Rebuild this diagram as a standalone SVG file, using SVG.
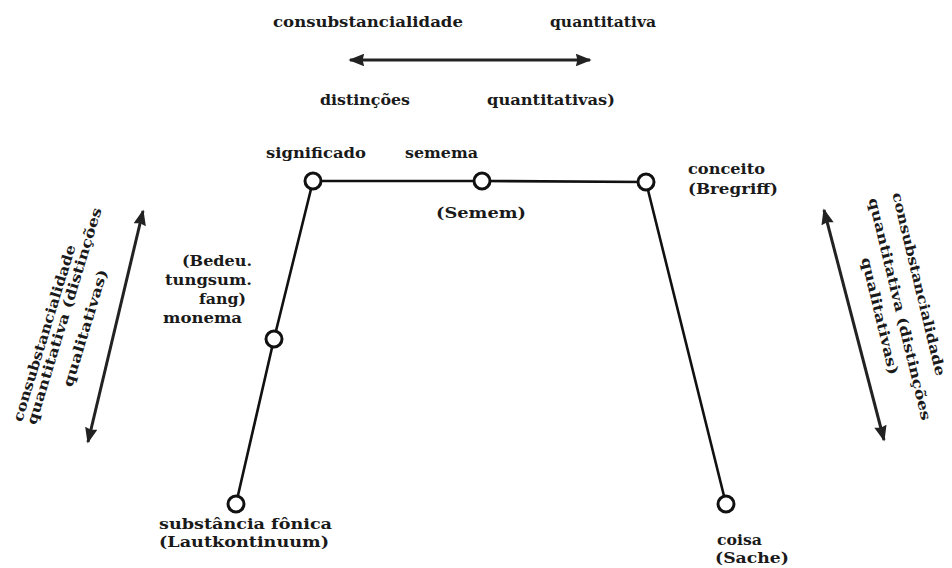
<svg xmlns="http://www.w3.org/2000/svg" width="952" height="568" viewBox="0 0 952 568">
<style>
text{font-family:"DejaVu Serif","Liberation Serif",serif;font-weight:bold;font-size:14px;fill:#1a1a1a}
.ln{stroke:#111;stroke-width:2.6;fill:none}
.ar{stroke:#222;stroke-width:3;fill:none;marker-start:url(#ah);marker-end:url(#ah)}
.nd{fill:#fff;stroke:#111;stroke-width:3}
</style>
<defs>
<marker id="ah" viewBox="0 0 10 8" refX="9" refY="4" markerWidth="5.5" markerHeight="4.2" orient="auto-start-reverse" markerUnits="strokeWidth">
<path d="M0,0 L10,4 L0,8 L1,4 Z" fill="#222"/>
</marker>
</defs>
<rect width="952" height="568" fill="#fff"/>
<g id="connectors">
<polyline class="ln" points="236,504 274,339 313,181 482,181 646,182 726,504"/>
<line class="ar" x1="350" y1="60" x2="590" y2="60"/>
<line class="ar" x1="143" y1="211" x2="88" y2="442"/>
<line class="ar" x1="824" y1="210" x2="884" y2="440"/>
</g>
<g id="labels-top">
<text x="273" y="27" textLength="190" lengthAdjust="spacingAndGlyphs">consubstancialidade</text>
<text x="550" y="27" textLength="106" lengthAdjust="spacingAndGlyphs">quantitativa</text>
<text x="320" y="105" textLength="90" lengthAdjust="spacingAndGlyphs">distinções</text>
<text x="487" y="105" textLength="128" lengthAdjust="spacingAndGlyphs">quantitativas)</text>
</g>
<g id="labels-left">
<text transform="translate(44,333) rotate(-73)" y="5" text-anchor="middle" textLength="184" lengthAdjust="spacingAndGlyphs">consubstancialidade</text>
<text transform="translate(64,316) rotate(-73)" y="5" text-anchor="middle" textLength="226" lengthAdjust="spacingAndGlyphs">quantitativa  (distinções</text>
<text transform="translate(85,328) rotate(-73)" y="5" text-anchor="middle" textLength="122" lengthAdjust="spacingAndGlyphs">qualitativas)</text>
</g>
<g id="labels-right">
<text transform="translate(919,284) rotate(76.5)" y="5" text-anchor="middle" textLength="188" lengthAdjust="spacingAndGlyphs">consubstancialidade</text>
<text transform="translate(900,309) rotate(76.5)" y="5" text-anchor="middle" textLength="228" lengthAdjust="spacingAndGlyphs">quantitativa  (distinções</text>
<text transform="translate(880,316) rotate(76.5)" y="5" text-anchor="middle" textLength="120" lengthAdjust="spacingAndGlyphs">qualitativas)</text>
</g>
<g id="n-significado">
<circle class="nd" cx="313" cy="181" r="8"/>
<text x="266" y="158" textLength="100" lengthAdjust="spacingAndGlyphs">significado</text>
</g>
<g id="n-semema">
<circle class="nd" cx="482" cy="181" r="8"/>
<text x="405" y="158" textLength="73" lengthAdjust="spacingAndGlyphs">semema</text>
<text x="436" y="218" textLength="90" lengthAdjust="spacingAndGlyphs">(Semem)</text>
</g>
<g id="n-conceito">
<circle class="nd" cx="646" cy="182" r="8"/>
<text x="688" y="174" textLength="77" lengthAdjust="spacingAndGlyphs">conceito</text>
<text x="688" y="194" textLength="90" lengthAdjust="spacingAndGlyphs">(Bregriff)</text>
</g>
<g id="n-monema">
<circle class="nd" cx="274" cy="339" r="8"/>
<text x="182" y="266" textLength="70" lengthAdjust="spacingAndGlyphs">(Bedeu.</text>
<text x="165" y="285" textLength="87" lengthAdjust="spacingAndGlyphs">tungsum.</text>
<text x="199" y="304" textLength="47" lengthAdjust="spacingAndGlyphs">fang)</text>
<text x="163" y="323" textLength="79" lengthAdjust="spacingAndGlyphs">monema</text>
</g>
<g id="n-substancia">
<circle class="nd" cx="236" cy="504" r="8"/>
<text x="159" y="529" textLength="173" lengthAdjust="spacingAndGlyphs">substância  fônica</text>
<text x="159" y="547" textLength="170" lengthAdjust="spacingAndGlyphs">(Lautkontinuum)</text>
</g>
<g id="n-coisa">
<circle class="nd" cx="726" cy="504" r="8"/>
<text x="717" y="545" textLength="45" lengthAdjust="spacingAndGlyphs">coisa</text>
<text x="715" y="563" textLength="74" lengthAdjust="spacingAndGlyphs">(Sache)</text>
</g>
</svg>
